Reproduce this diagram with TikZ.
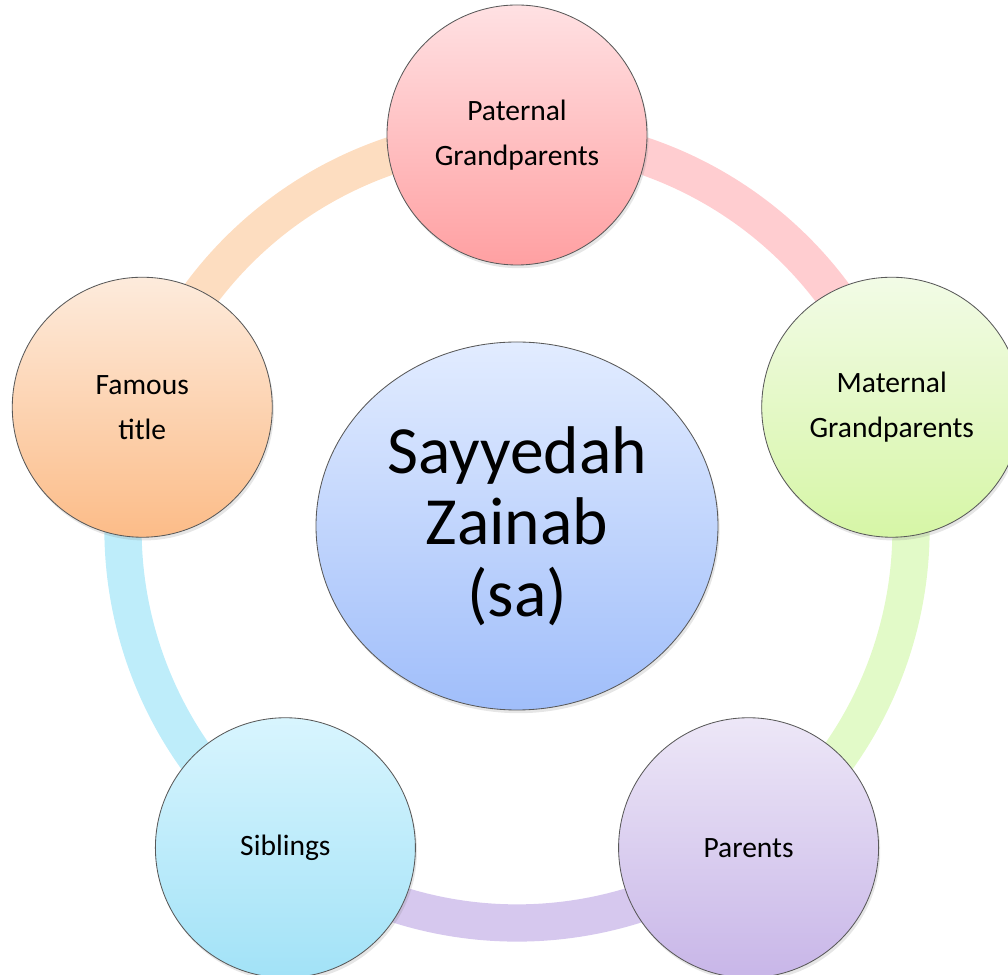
\documentclass[tikz,border=0pt]{standalone}
\usepackage{fontspec}
\setmainfont{Carlito}
\usetikzlibrary{shapes.geometric,backgrounds,shadows}
\definecolor{patT}{RGB}{255,225,227}\definecolor{patB}{RGB}{255,160,162}
\definecolor{matT}{RGB}{242,251,230}\definecolor{matB}{RGB}{214,246,166}
\definecolor{parT}{RGB}{237,231,247}\definecolor{parB}{RGB}{200,182,232}
\definecolor{sibT}{RGB}{216,245,254}\definecolor{sibB}{RGB}{162,226,247}
\definecolor{famT}{RGB}{253,235,220}\definecolor{famB}{RGB}{252,188,136}
\definecolor{midT}{RGB}{226,236,255}\definecolor{midB}{RGB}{160,190,250}
\definecolor{patR}{RGB}{255,205,208}
\definecolor{matR}{RGB}{226,250,200}
\definecolor{parR}{RGB}{214,200,238}
\definecolor{sibR}{RGB}{190,237,250}
\definecolor{famR}{RGB}{253,221,192}
\tikzset{
  bubble/.style={circle,draw=black!65,line width=0.6pt,minimum size=6.5cm,inner sep=0pt,
    align=center,font=\fontsize{21}{32}\selectfont,
    drop shadow={opacity=0.2,shadow xshift=0.04cm,shadow yshift=-0.08cm}},
  hub/.style={ellipse,draw=black!65,line width=0.6pt,minimum width=10.05cm,minimum height=9.2cm,
    inner sep=0pt,align=center,font=\fontsize{48}{51}\selectfont,
    drop shadow={opacity=0.2,shadow xshift=0.04cm,shadow yshift=-0.08cm}},
  band/.style={line width=26.5pt}
}
\begin{document}
\begin{tikzpicture}
\useasboundingbox (-12.925,-11.15) rectangle (12.275,13.225);
\clip (-12.925,-11.15) rectangle (12.275,13.225);
\node[hub,top color=midT,bottom color=midB] (zainab) at (0,0.075) {Sayyedah\\Zainab\\(sa)};
\node[bubble,top color=patT,bottom color=patB] (pat) at (90:9.85) {Paternal\\Grandparents};
\node[bubble,top color=matT,bottom color=matB] (mat) at (18:9.85) {Maternal\\Grandparents};
\node[bubble,top color=parT,bottom color=parB] (par) at (-54:9.85) {Parents};
\node[bubble,top color=sibT,bottom color=sibB] (sib) at (-126:9.85) {Siblings};
\node[bubble,top color=famT,bottom color=famB] (fam) at (162:9.85) {Famous\\title};
\begin{scope}[on background layer]
\draw[band,patR] (pat.center) arc[start angle=90,end angle=18,radius=9.85];
\draw[band,matR] (mat.center) arc[start angle=18,end angle=-54,radius=9.85];
\draw[band,parR] (par.center) arc[start angle=-54,end angle=-126,radius=9.85];
\draw[band,sibR] (sib.center) arc[start angle=-126,end angle=-198,radius=9.85];
\draw[band,famR] (fam.center) arc[start angle=162,end angle=90,radius=9.85];
\end{scope}
\end{tikzpicture}
\end{document}
